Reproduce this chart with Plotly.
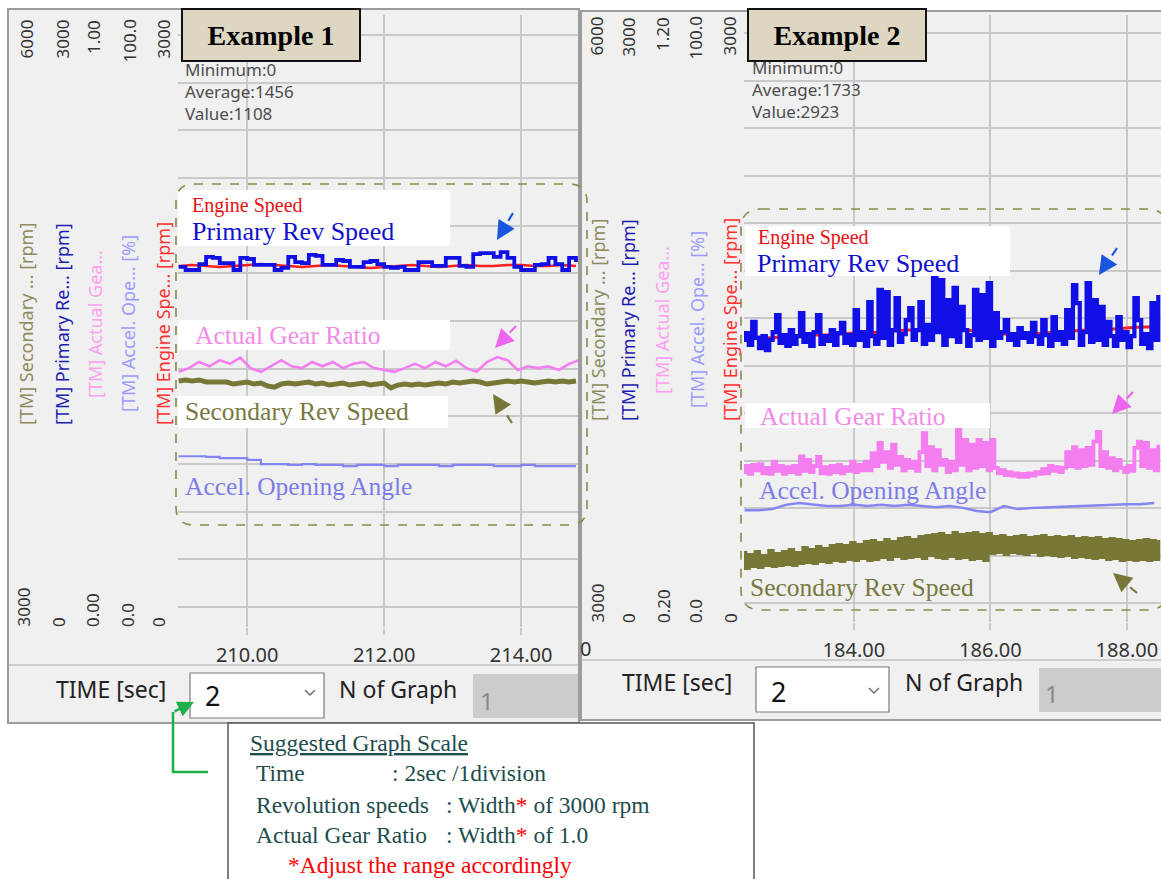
import plotly.graph_objects as go

W, H = 1161, 879
SANS = "Noto Sans"
SERIF = "Liberation Serif"

# ---------------- DATA ----------------
# Example 1 (left) - time grid 209.0 .. 214.8 s
left_primary_rpm = [1765,1750,1750,1779,1814,1809,1784,1784,1750,1809,1804,1775,1775,1775,1750,1760,
                    1814,1789,1784,1824,1819,1775,1775,1799,1794,1765,1765,1789,1794,1779,1765,1760,
                    1765,1750,1750,1789,1789,1770,1770,1809,1809,1770,1765,1828,1833,1833,1814,1838,
                    1809,1765,1750,1750,1775,1779,1809,1779,1750,1809,1789]
left_engine_rpm = [1770,1775,1770,1765,1770,1775,1779,1775,1770,1765,1770,1775,1770,1765,1760,
                   1765,1770,1775,1770,1765,1770,1775,1770,1770,1775,1775,1770,1770,1775,1770]
left_gear_ratio = [0.417,0.423,0.433,0.426,0.436,0.430,0.440,0.423,0.417,0.426,0.436,0.426,0.423,0.433,
                   0.426,0.433,0.423,0.430,0.433,0.423,0.420,0.417,0.423,0.430,0.423,0.433,0.426,0.435,
                   0.423,0.417,0.433,0.441,0.436,0.420,0.426,0.423,0.426,0.420,0.430,0.436]
left_secondary_rpm = [4206,4211,4206,4211,4201,4201,4196,4201,4191,4196,4201,4191,4196,4181,4176,4191,
                      4196,4191,4196,4201,4191,4196,4186,4191,4196,4186,4191,4196,4186,4191,4196,4172,
                      4186,4191,4186,4191,4186,4191,4196,4191,4201,4196,4201,4206,4201,4191,4196,4201,
                      4206,4201,4206,4201,4196,4201,4206,4201,4206,4201,4206]
left_accel_pct = [27.9,27.9,27.8,27.6,27.6,27.3,26.6,26.6,26.5,26.6,26.5,26.5,26.3,26.5,26.5,
                  26.3,26.5,26.5,26.5,26.3,26.5,26.5,26.5,26.3,26.3,26.5,26.3,26.3,26.3,26.3]

# Example 2 (right) - time grid 182.36 .. 188.46 s
right_primary_rpm = [1394,1428,1369,1483,1404,1354,1413,1344,1394,1433,1517,1379,1418,1364,1443,1374,
                     1413,1527,1384,1423,1364,1433,1517,1374,1413,1389,1443,1369,1428,1478,1379,1418,
                     1369,1542,1394,1433,1364,1581,1413,1374,1641,1404,1631,1369,1443,1601,1384,1423,
                     1492,1552,1394,1443,1581,1374,1468,1394,1700,1433,1690,1369,1591,1413,1651,1384,
                     1557,1443,1364,1418,1641,1394,1616,1404,1675,1364,1527,1404,1433,1492,1394,1423,
                     1369,1453,1404,1428,1384,1478,1413,1374,1492,1418,1364,1507,1394,1433,1374,1542,
                     1404,1665,1576,1369,1433,1675,1384,1591,1394,1557,1369,1483,1413,1364,1507,1394,
                     1433,1359,1413,1601,1492,1374,1423,1354,1576,1394,1616]
right_engine_rpm = [1404,1408,1404,1413,1413,1418,1418,1423,1428,1428,1433,1438,1443,1443,1448,1448,
                    1443,1438,1433,1423,1418,1423,1428,1433,1438,1443,1443,1448,1453,1458,1458]
right_gear_ratio = [0.447,0.457,0.444,0.459,0.450,0.460,0.445,0.454,0.444,0.464,0.449,0.457,0.444,0.455,
                    0.447,0.457,0.444,0.473,0.449,0.467,0.447,0.457,0.472,0.445,0.455,0.444,0.457,0.447,
                    0.459,0.445,0.455,0.449,0.464,0.447,0.459,0.450,0.464,0.450,0.478,0.457,0.495,0.464,
                    0.480,0.454,0.492,0.459,0.472,0.450,0.467,0.454,0.464,0.449,0.480,0.511,0.457,0.488,
                    0.450,0.483,0.459,0.467,0.447,0.464,0.450,0.520,0.459,0.500,0.450,0.492,0.454,0.500,
                    0.457,0.495,0.450,0.500,0.454,0.445,0.450,0.442,0.447,0.441,0.445,0.439,0.444,0.439,
                    0.445,0.441,0.447,0.444,0.452,0.445,0.457,0.449,0.455,0.447,0.454,0.480,0.457,0.488,
                    0.454,0.483,0.457,0.487,0.459,0.497,0.513,0.457,0.480,0.454,0.470,0.450,0.467,0.454,
                    0.447,0.457,0.449,0.487,0.497,0.457,0.495,0.454,0.483,0.450,0.492]
right_secondary_rpm = [3341,3267,3331,3277,3346,3272,3326,3282,3351,3277,3336,3282,3346,3287,3356,3282,
                       3341,3292,3366,3297,3356,3292,3371,3301,3361,3297,3376,3306,3381,3301,3376,3311,
                       3390,3306,3381,3316,3395,3306,3400,3311,3390,3321,3405,3311,3395,3326,3410,3316,
                       3415,3321,3405,3326,3420,3316,3425,3331,3430,3321,3435,3316,3425,3326,3440,3316,
                       3430,3321,3435,3311,3440,3316,3430,3306,3435,3341,3420,3346,3425,3336,3415,3346,
                       3420,3341,3425,3336,3415,3346,3420,3331,3425,3336,3415,3331,3420,3326,3415,3331,
                       3420,3321,3410,3326,3415,3321,3410,3316,3415,3321,3405,3311,3410,3316,3405,3306,
                       3400,3311,3395,3306,3400,3311,3405,3306,3400,3311,3405]
right_accel_pct = [18.4,18.4,18.6,19.3,19.6,19.4,19.1,19.1,19.3,19.1,19.3,19.1,19.3,19.1,18.9,19.1,
                   18.8,18.3,18.1,19.1,18.6,18.8,18.9,18.9,19.1,19.1,19.3,19.3,19.4,19.4,19.6]

# sample times (s)
def grid(t0, dt, n):
    return [round(t0 + dt * i, 3) for i in range(n)]

lt_fine = grid(209.0, 0.1, len(left_primary_rpm))
lt_coarse = grid(209.0, 0.2, len(left_engine_rpm))
lt_gear = grid(209.0, 0.15, len(left_gear_ratio))
lt_sec = grid(209.0, 0.1, len(left_secondary_rpm))
lt_acc = grid(209.0, 0.2, len(left_accel_pct))
rt_fine = grid(182.36, 0.05, len(right_primary_rpm))
rt_coarse = grid(182.4, 0.2, len(right_engine_rpm))
rt_gear = grid(182.36, 0.05, len(right_gear_ratio))
rt_sec = grid(182.36, 0.05, len(right_secondary_rpm))
rt_acc = grid(182.4, 0.2, len(right_accel_pct))

left_ticks = [210, 212, 214]
right_ticks = [184, 186, 188]
left_top_labels = ["6000", "3000", "1.00", "100.0", "3000"]
left_bottom_labels = ["3000", "0", "0.00", "0.0", "0"]
right_top_labels = ["6000", "3000", "1.20", "100.0", "3000"]
right_bottom_labels = ["3000", "0", "0.20", "0.0", "0"]
axis_titles = ["[TM] Secondary ... [rpm]", "[TM] Primary Re... [rpm]", "[TM] Actual Gea...",
               "[TM] Accel. Ope... [%]", "[TM] Engine Spe... [rpm]"]
title_colors = ["#8c8c5e", "#1c1cb0", "#ff9ff0", "#9c9cff", "#ff3030"]
left_stats = ["Minimum:0", "Average:1456", "Value:1108"]
right_stats = ["Minimum:0", "Average:1733", "Value:2923"]

C_RED = "#ff1e1e"
C_BLUE = "#1010e6"
C_PINK = "#f47ef0"
C_OLIVE = "#777736"
C_ACC = "#8585f2"


def px(x):
    return x / W


def py(y):
    return 1 - y / H


fig = go.Figure()


def line(x, y, xa, ya, color, width, shape="linear"):
    fig.add_trace(go.Scatter(x=x, y=y, xaxis=xa, yaxis=ya, mode="lines",
                             line=dict(color=color, width=width, shape=shape),
                             hoverinfo="skip", showlegend=False))


# left panel traces
line(lt_acc, left_accel_pct, "x", "y4", C_ACC, 2.2, "hv")
line(lt_sec, left_secondary_rpm, "x", "y5", C_OLIVE, 5)
line(lt_gear, left_gear_ratio, "x", "y3", C_PINK, 2.6)
line(lt_coarse, left_engine_rpm, "x", "y", C_RED, 2.5)
line(lt_fine, left_primary_rpm, "x", "y2", C_BLUE, 3.8, "hv")
# right panel traces
line(rt_coarse, right_engine_rpm, "x2", "y6", C_RED, 3)
line(rt_fine, right_primary_rpm, "x2", "y7", C_BLUE, 4.2, "hv")
line(rt_gear, right_gear_ratio, "x2", "y8", C_PINK, 3.8, "hv")
line(rt_acc, right_accel_pct, "x2", "y9", C_ACC, 2.5)
line(rt_sec, right_secondary_rpm, "x2", "y10", C_OLIVE, 4, "hv")

GRID = "#c9c9c9"
xcommon = dict(showgrid=True, gridcolor=GRID, gridwidth=1.5, zeroline=False, showline=False,
               ticks="outside", ticklen=7, tickwidth=1.5, tickcolor=GRID, tickformat=".2f",
               tickmode="array", tickfont=dict(family=SANS, size=20, color="#333333"),
               ticklabelstandoff=3, fixedrange=True)
hidden = dict(visible=False, fixedrange=True)

fig.update_layout(
    width=W, height=H, margin=dict(l=0, r=0, t=0, b=0),
    paper_bgcolor="white", plot_bgcolor="white", hovermode=False, showlegend=False,
    xaxis=dict(domain=[px(178), px(578)], range=[208.99, 214.83], anchor="y",
               tickvals=left_ticks, **xcommon),
    yaxis=dict(domain=[py(627), py(15)], range=[0, 3000], anchor="x", showticklabels=False,
               showgrid=True, gridcolor=GRID, gridwidth=1.5, tickmode="linear", tick0=98,
               dtick=233.7, zeroline=False, showline=False, ticks="", fixedrange=True),
    yaxis2=dict(overlaying="y", anchor="x", range=[0, 3000], **hidden),
    yaxis3=dict(overlaying="y", anchor="x", range=[0, 1], **hidden),
    yaxis4=dict(overlaying="y", anchor="x", range=[0, 100], **hidden),
    yaxis5=dict(overlaying="y", anchor="x", range=[3000, 6000], **hidden),
    xaxis2=dict(domain=[px(744), 1.0], range=[182.39, 188.5], anchor="y6",
                tickvals=right_ticks, **xcommon),
    yaxis6=dict(domain=[py(622), py(15)], range=[0, 3000], anchor="x2", showticklabels=False,
                showgrid=True, gridcolor=GRID, gridwidth=1.5, tickmode="linear", tick0=93.9,
                dtick=234.7, zeroline=False, showline=False, ticks="", fixedrange=True),
    yaxis7=dict(overlaying="y6", anchor="x2", range=[0, 3000], **hidden),
    yaxis8=dict(overlaying="y6", anchor="x2", range=[0.2, 1.2], **hidden),
    yaxis9=dict(overlaying="y6", anchor="x2", range=[0, 100], **hidden),
    yaxis10=dict(overlaying="y6", anchor="x2", range=[3000, 6000], **hidden),
)

shapes = []


def rect(x0, y0, x1, y1, fill=None, lc=None, lw=0, layer="below"):
    shapes.append(dict(type="rect", xref="paper", yref="paper", x0=px(x0), x1=px(x1),
                       y0=py(y1), y1=py(y0), fillcolor=fill, layer=layer,
                       line=dict(color=lc or "rgba(0,0,0,0)", width=lw)))


def seg(x0, y0, x1, y1, color, width, dash="solid", layer="above"):
    shapes.append(dict(type="line", xref="paper", yref="paper", x0=px(x0), y0=py(y0),
                       x1=px(x1), y1=py(y1), layer=layer,
                       line=dict(color=color, width=width, dash=dash)))


def P(x, y):
    return f"{px(x):.5f},{py(y):.5f}"


def path(d, color, width, dash="solid", layer="above"):
    shapes.append(dict(type="path", xref="paper", yref="paper", path=d, layer=layer,
                       line=dict(color=color, width=width, dash=dash)))


def rrect(x0, y0, x1, y1, r):
    return (f"M{P(x0 + r, y0)} L{P(x1 - r, y0)} Q{P(x1, y0)} {P(x1, y0 + r)} "
            f"L{P(x1, y1 - r)} Q{P(x1, y1)} {P(x1 - r, y1)} L{P(x0 + r, y1)} "
            f"Q{P(x0, y1)} {P(x0, y1 - r)} L{P(x0, y0 + r)} Q{P(x0, y0)} {P(x0 + r, y0)} Z")


# window frames
rect(8, 9, 579, 723, fill="#f0f0f0", lc="#9c9c9c", lw=2)
rect(581, 11, 1166, 720, fill="#f0f0f0", lc="#9c9c9c", lw=2)
seg(9, 665, 578, 665, "#c4c4c4", 1.5, layer="below")
seg(582, 660, 1161, 660, "#c4c4c4", 1.5, layer="below")
# control widgets
rect(190, 673, 324, 718, fill="white", lc="#7a7a7a", lw=1.2)
rect(473, 674, 578, 718, fill="#cccccc")
rect(756, 667, 889, 712, fill="white", lc="#7a7a7a", lw=1.2)
rect(1039, 668, 1161, 712, fill="#cccccc")
path(f"M{P(305, 690)} L{P(310, 695)} L{P(315, 690)}", "#666666", 1.3)
path(f"M{P(869, 688)} L{P(874, 693)} L{P(879, 688)}", "#666666", 1.3)

# white label patches over the grid
rect(178, 190, 450, 246, fill="white", layer="above")
rect(178, 320, 450, 350, fill="white", layer="above")
rect(178, 396, 448, 428, fill="white", layer="above")
rect(745, 226, 1010, 276, fill="white", layer="above")
rect(745, 403, 990, 428, fill="white", layer="above")

# dashed rounded frames
path(rrect(176, 184, 587, 525, 18), "#8a8a4a", 1.6, "dash")
path(rrect(741, 209, 1167, 610, 20), "#8a8a4a", 1.6, "dash")

# suggested scale box
rect(228, 723, 754, 900, fill="white", lc="#555555", lw=1.5, layer="above")
# green connector
path(f"M{P(208, 772)} L{P(173, 772)} L{P(173, 712)}", "#1db04b", 2.5)

annotations = []


def txt(x, y, s, size, color, family=SANS, xanchor="left", yanchor="middle", angle=0, **kw):
    annotations.append(dict(x=px(x), y=py(y), xref="paper", yref="paper", text=s,
                            showarrow=False, font=dict(family=family, size=size, color=color),
                            xanchor=xanchor, yanchor=yanchor, textangle=angle, **kw))


def arrow(tail, tip, color):
    dx, dy = tip[0] - tail[0], tip[1] - tail[1]
    L = (dx * dx + dy * dy) ** 0.5
    ux, uy = dx / L, dy / L
    seg(tail[0], tail[1], tip[0] - ux * 8, tip[1] - uy * 8, color, 2.2, "dash")
    annotations.append(dict(x=px(tip[0]), y=py(tip[1]), xref="paper", yref="paper", text="",
                            showarrow=True, ax=-ux * 9, ay=-uy * 9, arrowhead=2, arrowsize=1.5,
                            arrowwidth=2.5, arrowcolor=color, standoff=0))


# rotated axis tick labels and titles
lx_top = [26, 62, 94, 129, 163]
lx_bot = [23, 58, 92, 127, 158]
lx_title = [26, 62, 95, 128, 163]
rx_top = [596, 628, 662, 695, 729]
rx_bot = [597, 628, 663, 695, 730]
rx_title = [598, 628, 662, 697, 730]
for i in range(5):
    txt(lx_top[i], 18, left_top_labels[i], 17, "#333333", xanchor="center", yanchor="top", angle=-90)
    txt(lx_bot[i], 629, left_bottom_labels[i], 17, "#333333", xanchor="center", yanchor="bottom", angle=-90)
    txt(lx_title[i], 324, axis_titles[i], 18, title_colors[i], xanchor="center", angle=-90)
    txt(rx_top[i], 15, right_top_labels[i], 17, "#333333", xanchor="center", yanchor="top", angle=-90)
    txt(rx_bot[i], 625, right_bottom_labels[i], 17, "#333333", xanchor="center", yanchor="bottom", angle=-90)
    txt(rx_title[i], 320, axis_titles[i], 18, title_colors[i], xanchor="center", angle=-90)

# stats text (one block per panel)
txt(183, 92, "<br>".join(left_stats), 17, "#4d4d4d", align="left")
txt(750, 90, "<br>".join(right_stats), 17, "#4d4d4d", align="left")

# example boxes
for cx, cy, s in [(271, 35.5, "Example 1"), (837, 35, "Example 2")]:
    annotations.append(dict(x=px(cx), y=py(cy), xref="paper", yref="paper",
                            text=f"<b>{s}</b>", showarrow=False, width=176, height=50,
                            bgcolor="#ddd7c2", bordercolor="#111111", borderwidth=2, borderpad=0,
                            font=dict(family=SERIF, size=28, color="black"),
                            xanchor="center", yanchor="middle"))

# series labels
for (x, y, s, size, col) in [
    (190, 205, "Engine Speed", 20, "#e81010"), (190, 231, "Primary Rev Speed", 26, "#1010cc"),
    (193, 335, "Actual Gear Ratio", 25.5, "#f28ae8"), (183, 411, "Secondary Rev Speed", 25.5, "#787840"),
    (183, 487, "Accel. Opening Angle", 25.5, "#7d7de8"),
    (756, 238, "Engine Speed", 20, "#e81010"), (755, 263, "Primary Rev Speed", 26, "#1010cc"),
    (758, 416, "Actual Gear Ratio", 25.5, "#f28ae8"), (757, 491, "Accel. Opening Angle", 25.5, "#7d7de8"),
    (748, 587, "Secondary Rev Speed", 25.5, "#787840")]:
    txt(x, y, s, size, col, family=SERIF)

arrow((513, 213), (497, 240), "#1a55e0")
arrow((516, 326), (495, 348), "#ee66ee")
arrow((512, 423), (493, 394), "#77773a")
arrow((1117, 248), (1099, 275), "#1a55e0")
arrow((1133, 392), (1112, 414), "#ee66ee")
arrow((1137, 593), (1113, 573), "#77773a")

# control strip text
txt(111, 689, "TIME [sec]", 23, "#222222", xanchor="center")
txt(203, 695, "2", 27, "#111111")
txt(398, 689, "N of Graph", 23, "#222222", xanchor="center")
txt(487, 700, "1", 24, "#8a8a8a", xanchor="center")
txt(677, 682, "TIME [sec]", 23, "#222222", xanchor="center")
txt(769, 691, "2", 27, "#111111")
txt(964, 682, "N of Graph", 23, "#222222", xanchor="center")
txt(1052, 693, "1", 24, "#8a8a8a", xanchor="center")
txt(585, 648, "0", 20, "#333333", xanchor="center")

# green arrow head
annotations.append(dict(x=px(194), y=py(702), xref="paper", yref="paper", text="", showarrow=True,
                        ax=-21, ay=10, arrowhead=2, arrowsize=1.3, arrowwidth=2.5,
                        arrowcolor="#1db04b", standoff=0))

# suggested graph scale box text
TEAL = "#1d4d4d"
FS = 23.5
txt(248, 743, "<u>Suggested Graph Scale</u>", FS, TEAL, family=SERIF)
txt(254, 773, "Time", FS, TEAL, family=SERIF)
txt(390, 773, ": 2sec /1division", FS, TEAL, family=SERIF)
txt(254, 805, "Revolution speeds", FS, TEAL, family=SERIF)
txt(444, 805, ": Width<span style='color:#ff0000'>*</span> of 3000 rpm", FS, TEAL, family=SERIF)
txt(254, 835, "Actual Gear Ratio", FS, TEAL, family=SERIF)
txt(444, 835, ": Width<span style='color:#ff0000'>*</span> of 1.0", FS, TEAL, family=SERIF)
txt(286, 865, "*Adjust the range accordingly", FS, "#ff0000", family=SERIF)

fig.update_layout(shapes=shapes, annotations=annotations)
fig.write_html("out.html", config={"displayModeBar": False},
               post_script="document.body.style.margin='0';document.body.style.overflow='hidden';")
